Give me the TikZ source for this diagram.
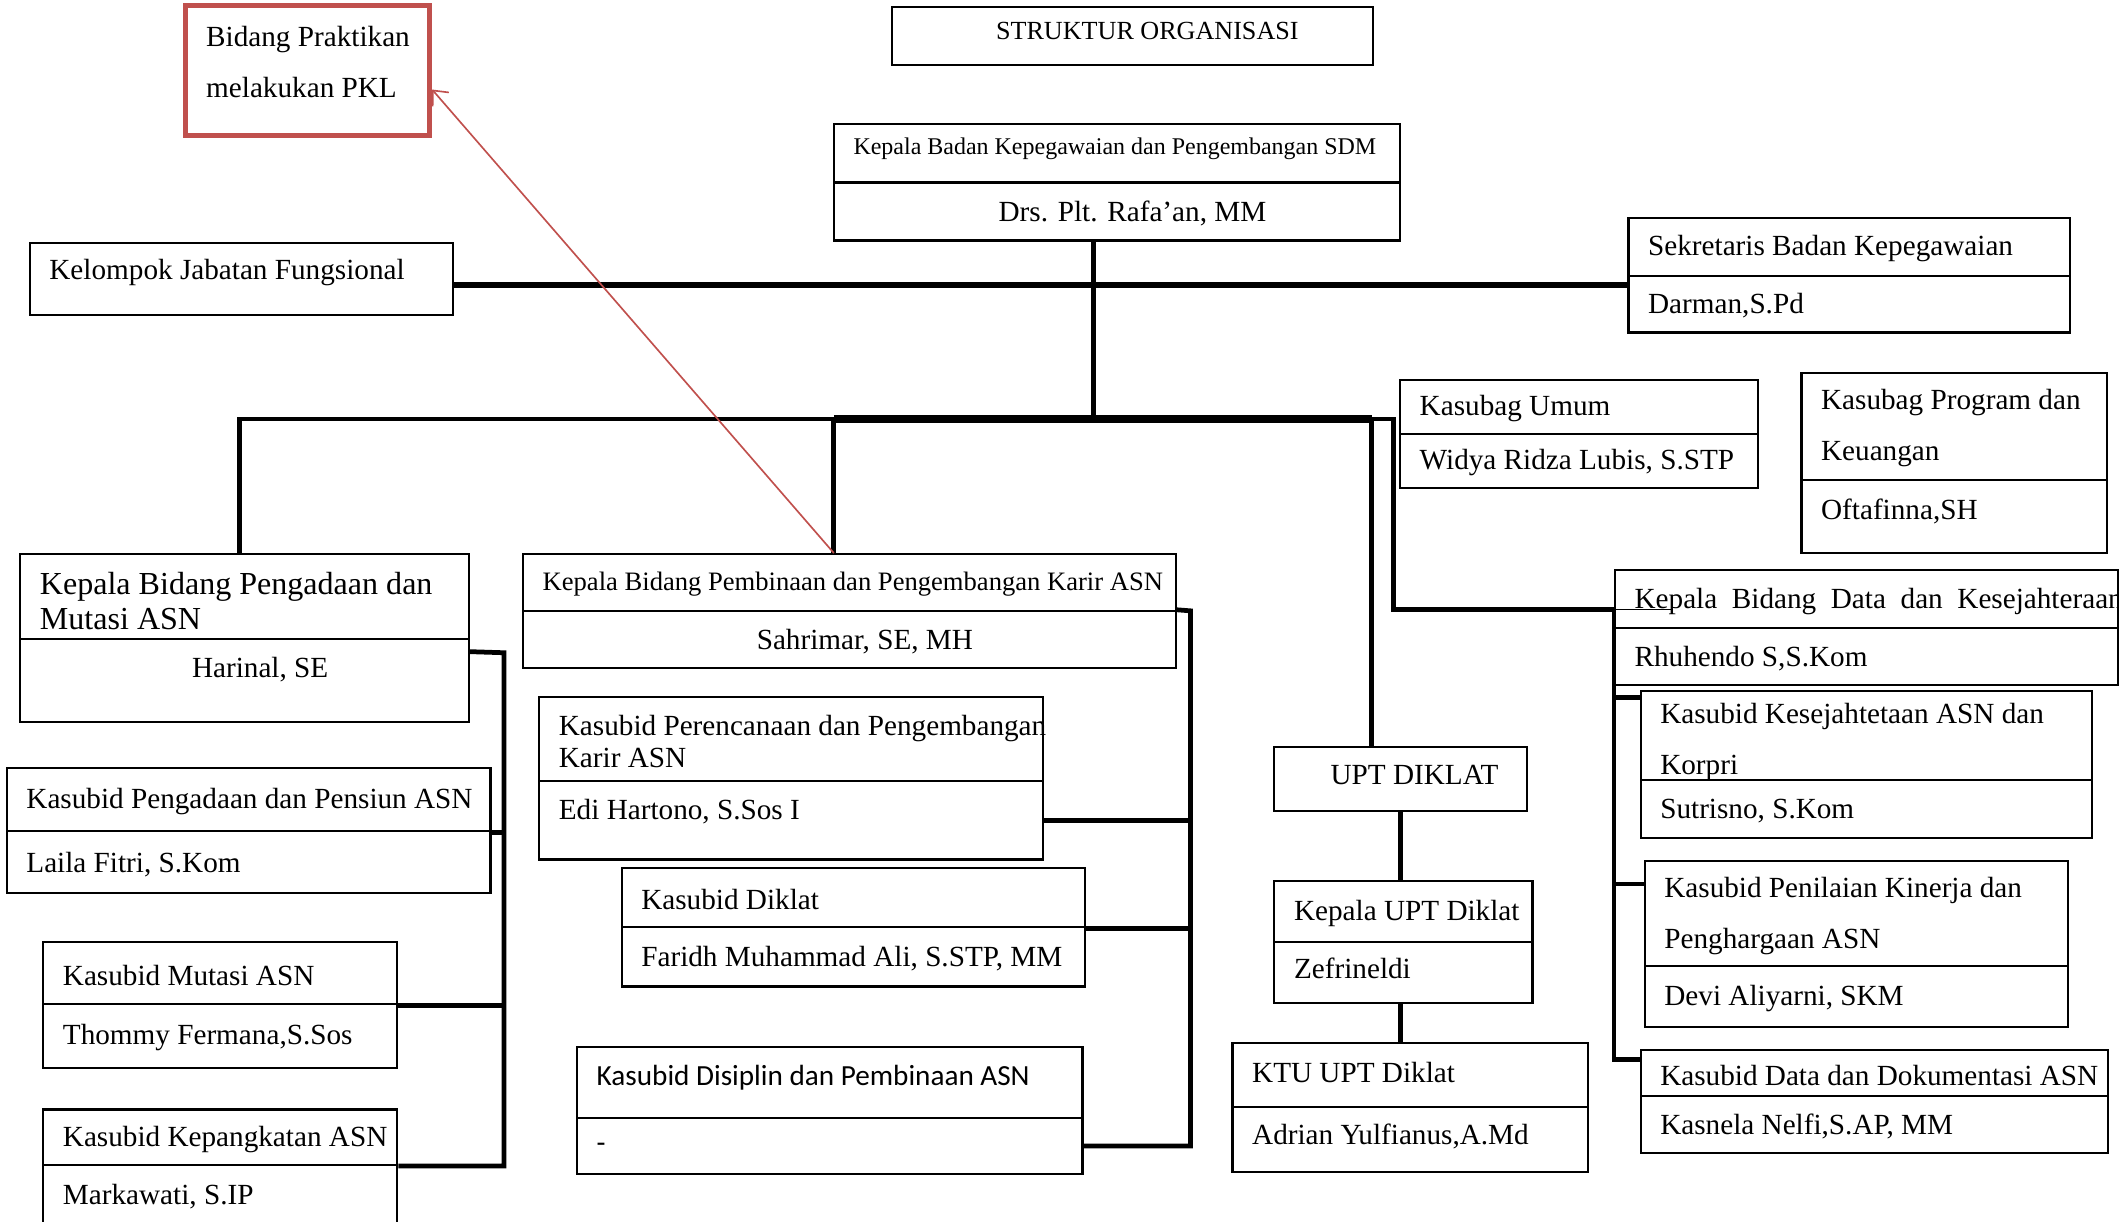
\documentclass[tikz,border=0pt]{standalone}
\usepackage{fontspec}
\setmainfont{Liberation Serif}
\newfontfamily\calibri{Carlito}
\usetikzlibrary{arrows.meta, fit, calc}
\definecolor{pklred}{HTML}{C0504D}

\begin{document}
\begin{tikzpicture}[
    x=0.02cm, y=-0.02cm,
    cell/.style={draw, fill=white, line width=0.9pt, inner sep=0pt},
    pklbox/.style={cell, draw=pklred, line width=2pt},
    txt/.style={anchor=west, inner xsep=0.3cm, inner ysep=0pt, yshift=-0.03cm, align=left, font=\fontsize{12.3}{14.6}\selectfont},
    dbl/.style={txt, font=\fontsize{12.3}{21.5}\selectfont},
    mid/.style={txt, anchor=center, xshift=0.23cm},
    link/.style={draw, line width=2pt},
    bar/.style={draw, line width=2.4pt},
    trunk/.style={draw, line width=3.2pt},
    pklarrow/.style={draw=pklred, line width=0.7pt, -{Straight Barb[length=5pt, width=9pt]}}
]
    \useasboundingbox (0,0) rectangle (1568,904);

    % title and note
    \node[cell, fit={(660,5) (1016,48)}, label={[txt, anchor=center, xshift=0.22cm, yshift=0.1cm, font=\fontsize{11}{13}\selectfont]center:STRUKTUR ORGANISASI}] (title) {};
    \node[pklbox, fit={(137,4) (318,100)}, label={[dbl, yshift=0.15cm, inner xsep=0.34cm]west:Bidang Praktikan\\melakukan PKL}] (pkl) {};

    % head of the agency
    \node[cell, fit={(617,92) (1036,135)}, label={[txt, yshift=0.1cm, font=\fontsize{10.1}{12.2}\selectfont]west:Kepala Badan Kepegawaian dan Pengembangan SDM}] (head-t) {};
    \node[cell, fit={(617,135) (1036,178)}, label={[mid]center:Drs. Plt. Rafa’an, MM}] (head-b) {};
    \node[cell, fit={(22,180) (335,233)}, label={[txt, yshift=0.13cm]west:Kelompok Jabatan Fungsional}] (kjf) {};
    \node[cell, fit={(1205,161) (1532,204)}, label={[txt]west:Sekretaris Badan Kepegawaian}] (sek-t) {};
    \node[cell, fit={(1205,204) (1532,246)}, label={[txt]west:Darman,S.Pd}] (sek-b) {};
    \node[cell, fit={(1036,281) (1301,321)}, label={[txt]west:Kasubag Umum}] (umum-t) {};
    \node[cell, fit={(1036,321) (1301,361)}, label={[txt]west:Widya Ridza Lubis, S.STP}] (umum-b) {};
    \node[cell, fit={(1333,276) (1559,355)}, label={[dbl]west:Kasubag Program dan\\Keuangan}] (prog-t) {};
    \node[cell, fit={(1333,355) (1559,409)}, label={[txt, yshift=0.1cm]west:Oftafinna,SH}] (prog-b) {};

    % bidang data
    \node[cell, fit={(1195,422) (1567,465)}, label={[txt]west:Kepala\ \ Bidang\ \ Data\ \ dan\ \ Kesejahteraan ASN}] (data-t) {};
    \node[cell, fit={(1195,465) (1567,507)}, label={[txt]west:Rhuhendo S,S.Kom}] (data-b) {};
    \node[cell, fit={(1214,511) (1548,577)}, label={[dbl, yshift=-0.07cm]west:Kasubid Kesejahtetaan ASN dan\\Korpri}] (kes-t) {};
    \node[cell, fit={(1214,577) (1548,620)}, label={[txt]west:Sutrisno, S.Kom}] (kes-b) {};
    \node[cell, fit={(1217,637) (1530,715)}, label={[dbl]west:Kasubid Penilaian Kinerja dan\\Penghargaan ASN}] (nil-t) {};
    \node[cell, fit={(1217,715) (1530,760)}, label={[txt]west:Devi Aliyarni, SKM}] (nil-b) {};
    \node[cell, fit={(1214,777) (1560,811)}, label={[txt]west:Kasubid Data dan Dokumentasi ASN}] (dok-t) {};
    \node[cell, fit={(1214,811) (1560,853)}, label={[txt]west:Kasnela Nelfi,S.AP, MM}] (dok-b) {};

    % upt diklat
    \node[cell, fit={(943,553) (1130,600)}, label={[txt, xshift=0.54cm, yshift=0.09cm]west:UPT DIKLAT}] (upt) {};
    \node[cell, fit={(943,652) (1134,697)}, label={[txt]west:Kepala UPT Diklat}] (kupt-t) {};
    \node[cell, fit={(943,697) (1134,742)}, label={[txt, yshift=0.09cm]west:Zefrineldi}] (kupt-b) {};
    \node[cell, fit={(912,772) (1175,819)}, label={[txt, yshift=0.07cm]west:KTU UPT Diklat}] (ktu-t) {};
    \node[cell, fit={(912,819) (1175,867)}, label={[txt, yshift=0.07cm]west:Adrian Yulfianus,A.Md}] (ktu-b) {};

    % bidang pengadaan
    \node[cell, fit={(15,410) (347,473)}, label={[txt, yshift=-0.04cm, font=\fontsize{13.5}{14.7}\selectfont]west:Kepala Bidang Pengadaan dan\\Mutasi ASN}] (kbp-t) {};
    \node[cell, fit={(15,473) (347,534)}, label={[mid, yshift=0.19cm]center:Harinal, SE}] (kbp-b) {};
    \node[cell, fit={(5,568) (363,615)}, label={[txt]west:Kasubid Pengadaan dan Pensiun ASN}] (pen-t) {};
    \node[cell, fit={(5,615) (363,661)}, label={[txt]west:Laila Fitri, S.Kom}] (pen-b) {};
    \node[cell, fit={(32,697) (294,743)}, label={[txt]west:Kasubid Mutasi ASN}] (mut-t) {};
    \node[cell, fit={(32,743) (294,790)}, label={[txt]west:Thommy Fermana,S.Sos}] (mut-b) {};
    \node[cell, fit={(32,821) (294,862)}, label={[txt]west:Kasubid Kepangkatan ASN}] (pkt-t) {};
    \node[cell, fit={(32,862) (294,906)}, label={[txt]west:Markawati, S.IP}] (pkt-b) {};

    % bidang pembinaan
    \node[cell, fit={(387,410) (870,452)}, label={[txt, font=\fontsize{11.2}{13.4}\selectfont]west:Kepala Bidang Pembinaan dan Pengembangan Karir ASN}] (kpk-t) {};
    \node[cell, fit={(387,452) (870,494)}, label={[mid]center:Sahrimar, SE, MH}] (kpk-b) {};
    \node[cell, fit={(399,516) (772,578)}, label={[txt, font=\fontsize{12.3}{13.6}\selectfont]west:Kasubid Perencanaan dan Pengembangan\\Karir ASN}] (ren-t) {};
    \node[cell, fit={(399,578) (772,636)}, label={[txt, yshift=0.16cm]west:Edi Hartono, S.Sos I}] (ren-b) {};
    \node[cell, fit={(460,642) (803,686)}, label={[txt]west:Kasubid Diklat}] (dik-t) {};
    \node[cell, fit={(460,686) (803,730)}, label={[txt]west:Faridh Muhammad Ali, S.STP, MM}] (dik-b) {};
    \node[cell, fit={(427,775) (801,827)}, label={[txt, yshift=0.1cm, font=\calibri\fontsize{12.3}{14.6}\selectfont]west:Kasubid Disiplin dan Pembinaan ASN}] (dis-t) {};
    \node[cell, fit={(427,827) (801,869)}, label={[txt, font=\calibri\fontsize{12.3}{14.6}\selectfont]west:-}] (dis-b) {};

    % connectors
    \coordinate (spine) at (809,211);
    \coordinate (hub) at (809,310);
    \coordinate (kbpx) at (177,310);
    \coordinate (kpkx) at (617,310);
    \coordinate (uptx) at (1015,310);
    \coordinate (datax) at (1031,451);
    \coordinate (pv) at (373,483);
    \coordinate (kv) at (881,452);

    \draw[bar] (spine -| kjf.east) -- (spine -| sek-b.west);
    \draw[link] (head-b.south -| spine) -- (hub);
    \draw[link] (hub) -- (kbpx) -- (kbpx |- kbp-t.north);
    \draw[trunk] (kpkx) -- (uptx);
    \draw[link] (kpkx) -- (kpkx |- kpk-t.north);
    \draw[link] (uptx) -- (uptx |- upt.north);
    \draw[link] (uptx) -| (datax) -- (datax -| data-t.west) coordinate (dv);
    \draw[line width=0.8pt] (dv) -- ++(42,0);
    \foreach \sub/\dy in {kes-t/6, nil-t/18, dok-t/8}
        \draw[link] (dv) |- ($(\sub.north west)+(0,\dy)$);

    \draw[link] ($(kbp-b.north east)+(0,10)$) -- (pv) |- (pkt-t.south east);
    \foreach \sub in {pen-t, mut-t}
        \draw[link] (pv) |- (\sub.south east);

    \draw[link] (kpk-b.north east) -- (kv) |- (dis-b.east);
    \draw[link] (kv) |- (ren-b.east);
    \draw[link] (kv) |- (dik-t.south east);

    \draw[link] (upt.south) -- (upt.south |- kupt-t.north);
    \draw[link] (kupt-b.south -| upt.south) -- (upt.south |- ktu-t.north);

    \draw[pklarrow] (kpkx |- kpk-t.north) -- ($(pkl.north east)+(0,64)$);
\end{tikzpicture}
\end{document}
